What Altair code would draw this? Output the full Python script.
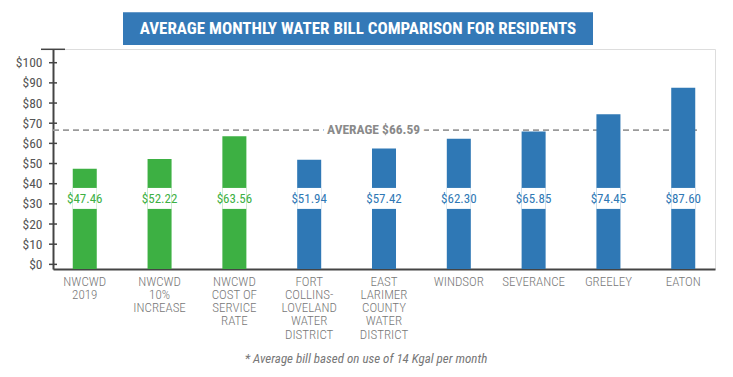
import altair as alt
import pandas as pd

# ---- data ----
categories = [
    "NWCWD|2019",
    "NWCWD|10%|INCREASE",
    "NWCWD|COST OF|SERVICE|RATE",
    "FORT|COLLINS-|LOVELAND|WATER|DISTRICT",
    "EAST|LARIMER|COUNTY|WATER|DISTRICT",
    "WINDSOR",
    "SEVERANCE",
    "GREELEY",
    "EATON",
]
bills = [47.46, 52.22, 63.56, 51.94, 57.42, 62.30, 65.85, 74.45, 87.60]
groups = ["NWCWD", "NWCWD", "NWCWD", "Other", "Other", "Other", "Other", "Other", "Other"]
average_bill = 66.59
y_ticks = [0, 10, 20, 30, 40, 50, 60, 70, 80, 90, 100]
title_text = "AVERAGE MONTHLY WATER BILL COMPARISON FOR RESIDENTS"
footnote_text = "* Average bill based on use of 14 Kgal per month"

df = pd.DataFrame({"cat": categories, "bill": bills, "group": groups})
df["label"] = df["bill"].map(lambda v: f"${v:.2f}")
ticks_df = pd.DataFrame({"v": y_ticks})
avg_df = pd.DataFrame({"avg": [average_bill], "txt": [f"AVERAGE ${average_bill:.2f}"]})

FONT = "Roboto Condensed, Liberation Sans Narrow, DejaVu Sans Condensed, Roboto, sans-serif"
Y_MIN, Y_MAX = -2.3, 106.8
W, H = 662, 220

xscale = alt.Scale(paddingInner=0.679, paddingOuter=0.264)
yscale = alt.Scale(domain=[Y_MIN, Y_MAX], zero=False, nice=False)
bar_colors = alt.Scale(domain=["NWCWD", "Other"], range=["#3db043", "#2f78b5"])
text_colors = alt.Scale(domain=["NWCWD", "Other"], range=["#5cba5e", "#4b88c6"])

x_axis = alt.Axis(
    title=None,
    labelAngle=0,
    labelExpr="split(datum.label, '|')",
    labelFont=FONT,
    labelFontSize=13,
    labelFontWeight=300,
    labelColor="#777777",
    labelLineHeight=13.3,
    labelPadding=6,
    labelLimit=300,
    labelOverlap=False,
    ticks=False,
    tickSize=0,
    domainColor="#444444",
    domainWidth=2,
    grid=False,
)

y_axis = alt.Axis(
    title=None,
    values=y_ticks,
    labelExpr="'$' + datum.value",
    labelFont=FONT,
    labelFontSize=13.5,
    labelColor="#555555",
    labelPadding=11,
    labelOverlap=False,
    labelFlush=False,
    ticks=False,
    tickSize=0,
    domainColor="#444444",
    domainWidth=2,
    grid=False,
)


def X():
    return alt.X("cat:N", sort=categories, scale=xscale, axis=x_axis)


def Y(field):
    return alt.Y(field, scale=yscale, axis=y_axis)


base = alt.Chart(df)

avg_rule = alt.Chart(avg_df).mark_rule(
    color="#9a9a9a", strokeWidth=1.6, strokeDash=[6, 4]
).encode(
    y=Y("avg:Q"),
    x=alt.value(0),
    x2=alt.value(644),
)

bars = base.mark_bar().encode(
    x=X(),
    y=Y("bill:Q"),
    y2=alt.datum(Y_MIN),
    color=alt.Color("group:N", scale=bar_colors, legend=None),
)

white_boxes = base.mark_bar(color="white").encode(
    x=X(),
    y=alt.Y(datum=37.9, scale=yscale, axis=y_axis),
    y2=alt.datum(27.5),
)

value_text = base.mark_text(
    font=FONT, fontSize=13, baseline="middle", align="center"
).encode(
    x=X(),
    y=alt.Y(datum=32.3, scale=yscale, axis=y_axis),
    text="label:N",
    color=alt.Color("group:N", scale=text_colors, legend=None),
)

avg_halo = alt.Chart(avg_df).mark_text(
    font=FONT, fontSize=13.5, fontWeight="bold", stroke="white", strokeWidth=9,
    color="white", baseline="middle", align="center",
).encode(y=Y("avg:Q"), x=alt.value(320.6), text="txt:N")

avg_text = alt.Chart(avg_df).mark_text(
    font=FONT, fontSize=13.5, fontWeight="bold", color="#8a8a8a",
    baseline="middle", align="center",
).encode(y=Y("avg:Q"), x=alt.value(320.6), text="txt:N")

tick_rules = alt.Chart(ticks_df).mark_rule(color="#444444", strokeWidth=1.5).encode(
    y=Y("v:Q"), x=alt.value(-4), x2=alt.value(4)
)

top_cap = alt.Chart(ticks_df.head(1)).mark_rule(color="#444444", strokeWidth=1.5).encode(
    y=alt.value(0.3), x=alt.value(-12), x2=alt.value(12)
)

title_df = pd.DataFrame({"t": [title_text]})
title_box = alt.Chart(title_df).mark_rect(color="#3479b7").encode(
    x=alt.value(70), x2=alt.value(540), y=alt.value(-36.7), y2=alt.value(-4)
)
title_label = alt.Chart(title_df).mark_text(
    font=FONT, fontSize=17, fontWeight="bold", color="white",
    baseline="middle", align="center",
).encode(x=alt.value(305), y=alt.value(-20), text="t:N")

foot_df = pd.DataFrame({"t": [footnote_text]})
footnote = alt.Chart(foot_df).mark_text(
    font=FONT, fontSize=13, fontStyle="italic", color="#777777",
    baseline="middle", align="center",
).encode(x=alt.value(313), y=alt.value(310.3), text="t:N")

chart = alt.layer(
    avg_rule, bars, white_boxes, value_text, avg_halo, avg_text,
    tick_rules, top_cap, title_box, title_label, footnote,
).properties(
    width=W,
    height=H,
    padding={"left": 53, "top": 49, "right": 18, "bottom": 108},
    autosize=alt.AutoSizeParams(type="none"),
).configure_view(stroke=None).configure(background="white")

chart.save("out.html", embed_options={"renderer": "svg", "actions": False})
